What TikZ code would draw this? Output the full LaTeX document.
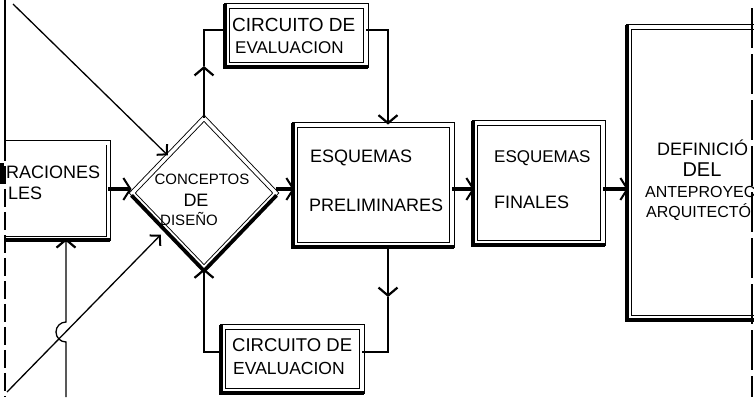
\documentclass[tikz,border=0pt]{standalone}
\usepackage{fontspec}
\setmainfont{Liberation Sans}
\usetikzlibrary{arrows.meta,shapes.geometric,calc}
\begin{document}
\begin{tikzpicture}[x=1pt,y=-1pt,
  box/.style={draw, double, double distance=3.4pt, line width=0.9pt, inner sep=0pt},
  edgedbl/.style={double, double distance=3.4pt, line width=0.9pt},
  shadow/.style={line width=3.8pt},
  conn/.style={line width=1.3pt},
  chev/.style={-{Straight Barb[length=8pt,width=19pt,line width=2.2pt]}},
  barb/.style={-{Straight Barb[length=7pt,width=15pt,line width=2pt]}},
  heavy/.style={line width=4.5pt,-{Straight Barb[length=7pt,width=22pt,line width=2pt]}},
  lbl/.style={inner sep=0pt, font=\fontsize{18}{20}\selectfont},
  lbls/.style={inner sep=0pt, font=\fontsize{15}{17}\selectfont}]
\useasboundingbox (0,0) rectangle (754,397);
\clip (0,0) rectangle (754,397);

% nodes
\node[minimum width=103pt, minimum height=95pt, inner sep=0pt] (lb) at (56.5,190.5) {};
\node[box, diamond, minimum width=144pt, minimum height=150pt] (d) at (204,193) {};
\node[box, minimum width=157pt, minimum height=120pt] (p) at (373.5,185) {};
\node[box, minimum width=128pt, minimum height=120pt] (f) at (539,183) {};
\node[box, minimum width=136pt, minimum height=291pt] (D) at (697,172.5) {};
\node[box, minimum width=139pt, minimum height=59pt] (ct) at (296.5,35.5) {};
\node[box, minimum width=139pt, minimum height=64pt] (cb) at (292.5,359) {};

% left box frame (cut off at the left)
\draw[edgedbl] (lb.north west) -- (lb.north east) -- (lb.south east) -- (lb.south west);
\draw[shadow] ([yshift=-1.8pt]lb.south west) -- ([shift={(1.8pt,-1.8pt)}]lb.south east);

% shadows
\draw[shadow] ([shift={(-1.8pt,1.8pt)}]p.north west) -- ([shift={(-1.8pt,-1.8pt)}]p.south west) -- ([shift={(1.8pt,-1.8pt)}]p.south east);
\draw[shadow] ([shift={(-1.8pt,1.8pt)}]f.north west) -- ([shift={(-1.8pt,-1.8pt)}]f.south west) -- ([shift={(1.8pt,-1.8pt)}]f.south east);
\draw[shadow] ([shift={(-1.8pt,1.8pt)}]D.north west) -- ([shift={(-1.8pt,-1.8pt)}]D.south west) -- ([shift={(1.8pt,-1.8pt)}]D.south east);
\draw[shadow] ([shift={(-1.8pt,1.8pt)}]ct.north west) -- ([shift={(-1.8pt,-1.8pt)}]ct.south west) -- ([shift={(1.8pt,-1.8pt)}]ct.south east);
\draw[shadow] ([shift={(-1.8pt,1.8pt)}]cb.north west) -- ([shift={(-1.8pt,-1.8pt)}]cb.south west) -- ([shift={(1.8pt,-1.8pt)}]cb.south east);
\draw[shadow] ([yshift=-2.4pt]d.west) -- ([yshift=-2.4pt]d.south) -- ([yshift=-2.4pt]d.east);

% texts
\node[lbl, anchor=west] (lbt1) at (6,172) {RACIONES};
\node[lbl, anchor=west] (lbt2) at (8,193) {LES};
\node[lbls] (dt1) at (202,179) {CONCEPTOS};
\node[lbl] (dt2) at (196,200) {DE};
\node[lbls] (dt3) at (189,219) {DISEÑO};
\node[lbl, anchor=west] (pt1) at (310,158) {ESQUEMAS};
\node[lbl, anchor=west] (pt2) at (309,205) {PRELIMINARES};
\node[lbl, anchor=west, font=\fontsize{17}{19}\selectfont] (ft1) at (494,158) {ESQUEMAS};
\node[lbl, anchor=west] (ft2) at (494,202) {FINALES};
\node[lbl, anchor=west, font=\fontsize{19}{21}\selectfont] (ctt1) at (232,25) {CIRCUITO DE};
\node[lbl, anchor=west, font=\fontsize{17}{19}\selectfont] (ctt2) at (235,48) {EVALUACION};
\node[lbl, anchor=west, font=\fontsize{18.5}{21}\selectfont] (cbt1) at (232,345) {CIRCUITO DE};
\node[lbl, anchor=west, font=\fontsize{17.5}{19}\selectfont] (cbt2) at (233,368) {EVALUACION};
\node[lbl, anchor=west] (Dt1) at (657,148) {DEFINICIÓ};
\node[lbl, font=\fontsize{20}{22}\selectfont] (Dt2) at (702,170) {DEL};
\node[lbl, anchor=west, font=\fontsize{16}{18}\selectfont] (Dt3) at (645,192) {ANTEPROYEC};
\node[lbl, anchor=west, font=\fontsize{16}{18}\selectfont] (Dt4) at (646,212) {ARQUITECTÓ};

% feedback loop above
\coordinate (ta) at (204,66);
\coordinate (tc) at (204,30);
\coordinate (tr) at (388,30);
\draw[conn,chev] (d.north) -- (ta);
\draw[conn] (ta) -- (tc) -- (tc -| ct.west);
\draw[conn,chev] (tc -| ct.east) -- (tr) -- (tr |- p.north);

% feedback loop below
\coordinate (bm) at (388,297);
\coordinate (br) at (388,352);
\draw[conn,chev] (tr |- p.south) -- (bm);
\draw[conn] (bm) -- (br) -- (br -| cb.east);
\draw[conn,chev] (br -| cb.west) -- (d.south |- br) -- (d.south);

% main flow
\coordinate (hy) at (0,189);
\draw[heavy] (lb.east |- hy) -- (d.west |- hy);
\draw[heavy] (d.east |- hy) -- (p.west |- hy);
\draw[heavy] (p.east |- hy) -- (f.west |- hy);
\draw[heavy] (f.east |- hy) -- (D.west |- hy);

% diagonals
\coordinate (s1) at (13,4);
\coordinate (s2) at (7,392);
\draw[conn,barb] (s1) -- (d.north west);
\draw[conn,barb] (s2) -- ($(d.south west)+(-7,4)$);

% vertical into left box with a jump over the diagonal
\coordinate (vb) at (66,397);
\draw[conn,chev] (vb) -- ++(0,-55) arc[start angle=90,end angle=270,radius=10] -- (vb |- lb.south);

% edge lines
\coordinate (lt) at (5,0);
\coordinate (lbot) at (5,397);
\draw[conn] (lt) -- (lt |- lb.north);
\draw[conn, dash pattern=on 18pt off 5pt] (lt |- lb.north) -- (lbot);
\draw[line width=4pt] (2,163) -- (2,184);
\draw[conn, dash pattern=on 40pt off 6pt] (752,8) -- (752,397);
\end{tikzpicture}
\end{document}
